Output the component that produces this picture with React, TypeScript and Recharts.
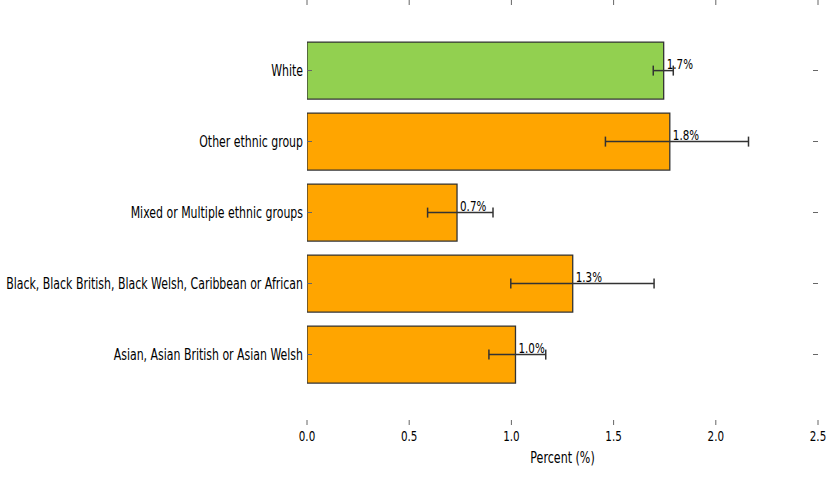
import React from "react";
import { BarChart, Bar, XAxis, YAxis, ErrorBar, LabelList, Cell } from "recharts";

const groups = [
  "White",
  "Other ethnic group",
  "Mixed or Multiple ethnic groups",
  "Black, Black British, Black Welsh, Caribbean or African",
  "Asian, Asian British or Asian Welsh",
];
const percents = [1.745, 1.775, 0.734, 1.3, 1.02];
const lowerCI = [1.694, 1.46, 0.59, 0.997, 0.89];
const upperCI = [1.792, 2.16, 0.91, 1.698, 1.168];
const valueLabels = ["1.7%", "1.8%", "0.7%", "1.3%", "1.0%"];
const xTicks = [0, 0.5, 1, 1.5, 2, 2.5];
const xTickLabels = ["0.0", "0.5", "1.0", "1.5", "2.0", "2.5"];
const highlighted = "White";

const data = groups.map((name, i) => ({
  name,
  value: percents[i],
  err: [percents[i] - lowerCI[i], upperCI[i] - percents[i]],
  label: valueLabels[i],
}));

const FONT = "'DejaVu Sans', sans-serif";

// the source picture was squeezed sideways, so text is narrowed to match
const SqText = ({ x, y, anchor, size = 14, sx = 0.74, children }: any) => (
  <text
    transform={`translate(${x},${y}) scale(${sx},1)`}
    textAnchor={anchor}
    fontFamily={FONT}
    fontSize={size}
    fill="#000"
  >
    {children}
  </text>
);

const XTick = ({ x, y, payload }: any) => {
  const idx = xTicks.indexOf(payload.value);
  return (
    <SqText x={x} y={y + 21} anchor="middle">
      {idx >= 0 ? xTickLabels[idx] : payload.value}
    </SqText>
  );
};

const YTick = ({ x, y, payload }: any) => (
  <SqText x={x} y={y + 5} anchor="end" size={15} sx={0.73}>
    {payload.value}
  </SqText>
);

const NoTick = () => <g />;

const AxisTitle = ({ viewBox }: any) => (
  <SqText x={viewBox.x + viewBox.width / 2} y={viewBox.y + 38} anchor="middle" size={15}>
    Percent (%)
  </SqText>
);

const renderValue = (props: any) => {
  const { x, y, width, height, value } = props;
  return (
    <SqText x={x + width + 3} y={y + height / 2 - 2} anchor="start">
      {value}
    </SqText>
  );
};

const tickStroke = { stroke: "#666", strokeWidth: 1 };

export default function App() {
  return (
    <div style={{ position: "absolute", left: 0, top: 0, background: "#fff" }}>
      <BarChart
        layout="vertical"
        width={833}
        height={477}
        data={data}
        margin={{ top: 0, right: 0, bottom: 0, left: 0 }}
        barCategoryGap="10%"
      >
        <XAxis
          xAxisId="bottom"
          type="number"
          domain={[0, 2.5]}
          ticks={xTicks}
          interval={0}
          height={52}
          axisLine={false}
          tickSize={-5}
          tickMargin={0}
          tickLine={tickStroke}
          tick={<XTick />}
          label={<AxisTitle />}
          allowDataOverflow
        />
        <XAxis
          xAxisId="top"
          orientation="top"
          type="number"
          domain={[0, 2.5]}
          ticks={xTicks}
          interval={0}
          height={5}
          axisLine={false}
          tickSize={5}
          tickLine={tickStroke}
          tick={NoTick}
          allowDataOverflow
        />
        <YAxis
          yAxisId="left"
          type="category"
          dataKey="name"
          width={307}
          interval={0}
          axisLine={false}
          tickSize={-5}
          tickMargin={9}
          tickLine={tickStroke}
          padding={{ top: 30, bottom: 35 }}
          tick={<YTick />}
        />
        <YAxis
          yAxisId="right"
          orientation="right"
          type="category"
          dataKey="name"
          width={15}
          interval={0}
          axisLine={false}
          tickSize={-5}
          tickLine={tickStroke}
          padding={{ top: 30, bottom: 35 }}
          tick={NoTick}
        />
        <Bar
          dataKey="value"
          xAxisId="bottom"
          yAxisId="left"
          stroke="#333"
          strokeWidth={1.3}
          isAnimationActive={false}
        >
          {data.map((d) => (
            <Cell key={d.name} fill={d.name === highlighted ? "#92D050" : "#FFA500"} />
          ))}
          <ErrorBar dataKey="err" direction="x" width={5} stroke="#333" strokeWidth={1.5} />
          <LabelList dataKey="label" content={renderValue} />
        </Bar>
      </BarChart>
    </div>
  );
}
